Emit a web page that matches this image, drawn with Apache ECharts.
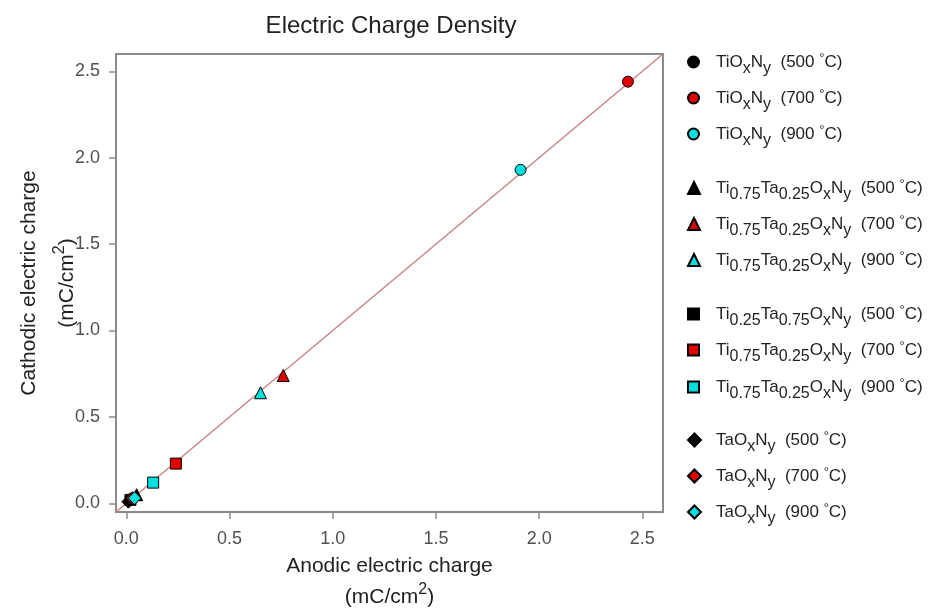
<!DOCTYPE html>
<html><head><meta charset="utf-8">
<script src="https://cdn.jsdelivr.net/npm/echarts@6/dist/echarts.min.js"></script>
<style>html,body{margin:0;padding:0;background:#fff}#c{width:935px;height:609px}</style>
</head><body><div id="c"></div>
<script>
// ---- data ----
const titleText = 'Electric Charge Density';
const xTicks = [0, 0.5, 1.0, 1.5, 2.0, 2.5];
const yTicks = [0, 0.5, 1.0, 1.5, 2.0, 2.5];
const diagonalLine = [[-0.05, -0.05], [2.6, 2.6]];
const seriesKeys = ['TiOxNy 500', 'TiOxNy 700', 'TiOxNy 900',
  'Ti75Ta25 500', 'Ti75Ta25 700', 'Ti75Ta25 900',
  'Ti25Ta75 500', 'Ti25Ta75 700', 'Ti25Ta75 900',
  'TaOxNy 500', 'TaOxNy 700', 'TaOxNy 900'];
const anodic   = [0.03, 2.43, 1.91, 0.05, 0.76, 0.65, 0.02, 0.24, 0.13, 0.01, 0.03, 0.04];
const cathodic = [0.03, 2.44, 1.93, 0.05, 0.74, 0.64, 0.02, 0.23, 0.12, 0.01, 0.03, 0.03];
const legendLabels = [
  'TiO{s|x}N{s|y}  (500 {d|°}C)',
  'TiO{s|x}N{s|y}  (700 {d|°}C)',
  'TiO{s|x}N{s|y}  (900 {d|°}C)',
  'Ti{s|0.75}Ta{s|0.25}O{s|x}N{s|y}  (500 {d|°}C)',
  'Ti{s|0.75}Ta{s|0.25}O{s|x}N{s|y}  (700 {d|°}C)',
  'Ti{s|0.75}Ta{s|0.25}O{s|x}N{s|y}  (900 {d|°}C)',
  'Ti{s|0.25}Ta{s|0.75}O{s|x}N{s|y}  (500 {d|°}C)',
  'Ti{s|0.75}Ta{s|0.25}O{s|x}N{s|y}  (700 {d|°}C)',
  'Ti{s|0.75}Ta{s|0.25}O{s|x}N{s|y}  (900 {d|°}C)',
  'TaO{s|x}N{s|y}  (500 {d|°}C)',
  'TaO{s|x}N{s|y}  (700 {d|°}C)',
  'TaO{s|x}N{s|y}  (900 {d|°}C)'
];
const xName = 'Anodic electric charge\n(mC/cm{p|2})';
const yName = 'Cathodic electric charge\n(mC/cm{p|2})';

// ---- styles / layout ----
const symbols = ['circle','circle','circle','triangle','triangle','triangle','rect','rect','rect','diamond','diamond','diamond'];
const symSizes = [11,11,11,12,12,12,11,11,11,13,13,13];
const colors = ['#000000','#e00000','#00e0e0'];
const legendTops = [62, 98, 134, 188, 224, 260, 314, 350, 387, 440, 476, 512];
const FONT = 'Arial, "Liberation Sans", sans-serif';

const richLegend = {
  s: {fontSize: 16, fontFamily: FONT, color: '#222', lineHeight: 10, verticalAlign: 'bottom'},
  d: {fontSize: 13, fontFamily: FONT, color: '#222', padding: [0, 0, 7, 0]}
};
const richName = {
  p: {fontSize: 16, fontFamily: FONT, color: '#222', padding: [0, 0, 15, 0]}
};

const series = [{
  type: 'line', data: diagonalLine, symbol: 'none', silent: true, z: 1,
  lineStyle: {color: '#c98585', width: 1.5}
}];
seriesKeys.forEach((k, i) => {
  series.push({
    name: k, type: 'scatter', z: 2 + i,
    symbol: symbols[i], symbolSize: symSizes[i],
    data: [[anodic[i], cathodic[i]]],
    itemStyle: {color: colors[i % 3], borderColor: '#000', borderWidth: 1, opacity: 1}
  });
});

const legends = seriesKeys.map((k, i) => ({
  data: [k], left: 682, top: legendTops[i] - 20, orient: 'vertical',
  itemWidth: symSizes[i], itemHeight: symSizes[i], icon: symbols[i],
  selectedMode: false,
  formatter: () => legendLabels[i],
  textStyle: {fontSize: 17, fontFamily: FONT, color: '#222', lineHeight: 30,
    padding: [0, 0, 0, 23 - symSizes[i]], rich: richLegend}
}));

const axisCommon = {
  type: 'value', min: -0.05, max: 2.6,
  splitLine: {show: false},
  axisLine: {show: true, onZero: false, lineStyle: {color: '#8a8a8a', width: 2}},
  axisTick: {show: true, inside: false, length: 7, lineStyle: {color: '#8a8a8a', width: 1.5}},
  nameLocation: 'middle',
  nameMoveOverlap: false
};

const option = {
  backgroundColor: '#fff',
  animation: false,
  title: {text: titleText, left: 386, top: 9, textAlign: 'center',
    textStyle: {fontSize: 24, fontWeight: 'normal', fontFamily: FONT, color: '#222'}},
  grid: {left: 116, right: 272, top: 54, bottom: 97, show: true, containLabel: false,
    outerBoundsMode: 'none', borderColor: '#8a8a8a', borderWidth: 2},
  xAxis: Object.assign({}, axisCommon, {
    name: xName, nameGap: 39,
    nameTextStyle: {fontSize: 21, fontFamily: FONT, color: '#222', lineHeight: 31, rich: richName},
    axisTick: Object.assign({}, axisCommon.axisTick, {customValues: xTicks}),
    axisLabel: {customValues: xTicks, formatter: v => v.toFixed(1), fontSize: 18,
      fontFamily: FONT, color: '#505050', margin: 18}
  }),
  yAxis: Object.assign({}, axisCommon, {
    name: yName, nameGap: 30,
    nameTextStyle: {fontSize: 21, fontFamily: FONT, color: '#222', lineHeight: 38, rich: richName},
    axisTick: Object.assign({}, axisCommon.axisTick, {customValues: yTicks}),
    axisLabel: {customValues: yTicks, formatter: v => v.toFixed(1), fontSize: 18,
      fontFamily: FONT, color: '#505050', margin: 16}
  }),
  legend: legends,
  series: series
};

const chart = echarts.init(document.getElementById('c'), null, {renderer: 'canvas'});
chart.setOption(option);
</script>
</body></html>
